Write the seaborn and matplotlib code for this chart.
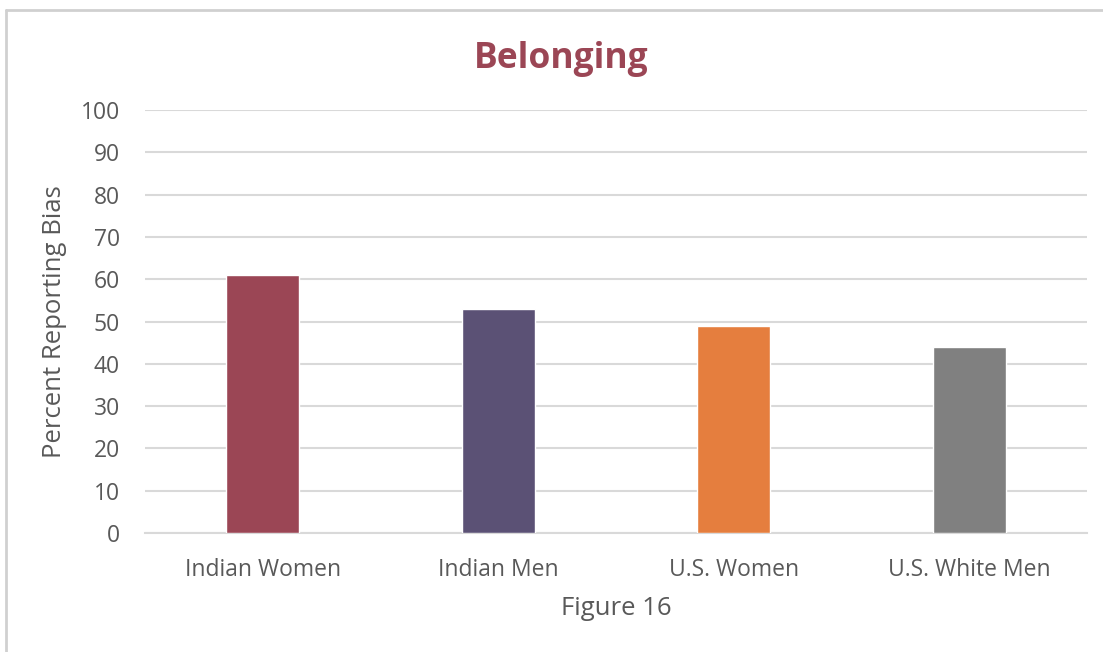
import pandas as pd
import matplotlib.pyplot as plt
import seaborn as sns
from matplotlib.lines import Line2D

# Data
groups = ["Indian Women", "Indian Men", "U.S. Women", "U.S. White Men"]
percent_bias = [61, 53, 49, 44]
bar_colors = ["#9B4655", "#5B5175", "#E57E3E", "#808080"]
y_ticks = [0, 10, 20, 30, 40, 50, 60, 70, 80, 90, 100]

sns.set_style("white")
plt.rcParams['font.family'] = ['Open Sans', 'DejaVu Sans']

df = pd.DataFrame({"group": groups, "value": percent_bias})

fig = plt.figure(figsize=(11.03, 6.52), dpi=100)
ax = fig.add_axes([0.1315, 0.1825, 0.854, 0.6488])

sns.barplot(data=df, x="group", y="value", hue="group", order=groups,
            palette=dict(zip(groups, bar_colors)), width=0.31, legend=False,
            saturation=1, ax=ax, zorder=3)

ax.set_ylim(0, 100)
ax.set_yticks(y_ticks)
ax.set_xlim(-0.5, len(groups) - 0.5)
ax.grid(True, axis='y', color='#D9D9D9', linewidth=1.5, zorder=0)
ax.set_axisbelow(True)
for side in ['top', 'right', 'left']:
    ax.spines[side].set_visible(False)
ax.spines['bottom'].set_color('#D9D9D9')
ax.spines['bottom'].set_linewidth(1.5)
ax.tick_params(axis='both', length=0, labelsize=16.5, labelcolor='#595959')
ax.tick_params(axis='x', pad=18)
ax.tick_params(axis='y', pad=18)

ax.set_xlabel("Figure 16", fontsize=18.5, color='#595959', labelpad=10)
ax.set_ylabel("Percent Reporting Bias", fontsize=18.5, color='#595959', labelpad=10)
fig.text(0.509, 0.909, "Belonging", ha='center', va='center',
         fontsize=25.5, fontweight='bold', color='#9B4655')

# light frame of the chart area (top and left edges visible)
fig.add_artist(Line2D([0.005, 1.0], [0.985, 0.985], color='#D0D0D0', linewidth=2,
                      transform=fig.transFigure))
fig.add_artist(Line2D([0.005, 0.005], [0.0, 0.985], color='#D0D0D0', linewidth=2,
                      transform=fig.transFigure))

fig.savefig("out.png", dpi=100)
